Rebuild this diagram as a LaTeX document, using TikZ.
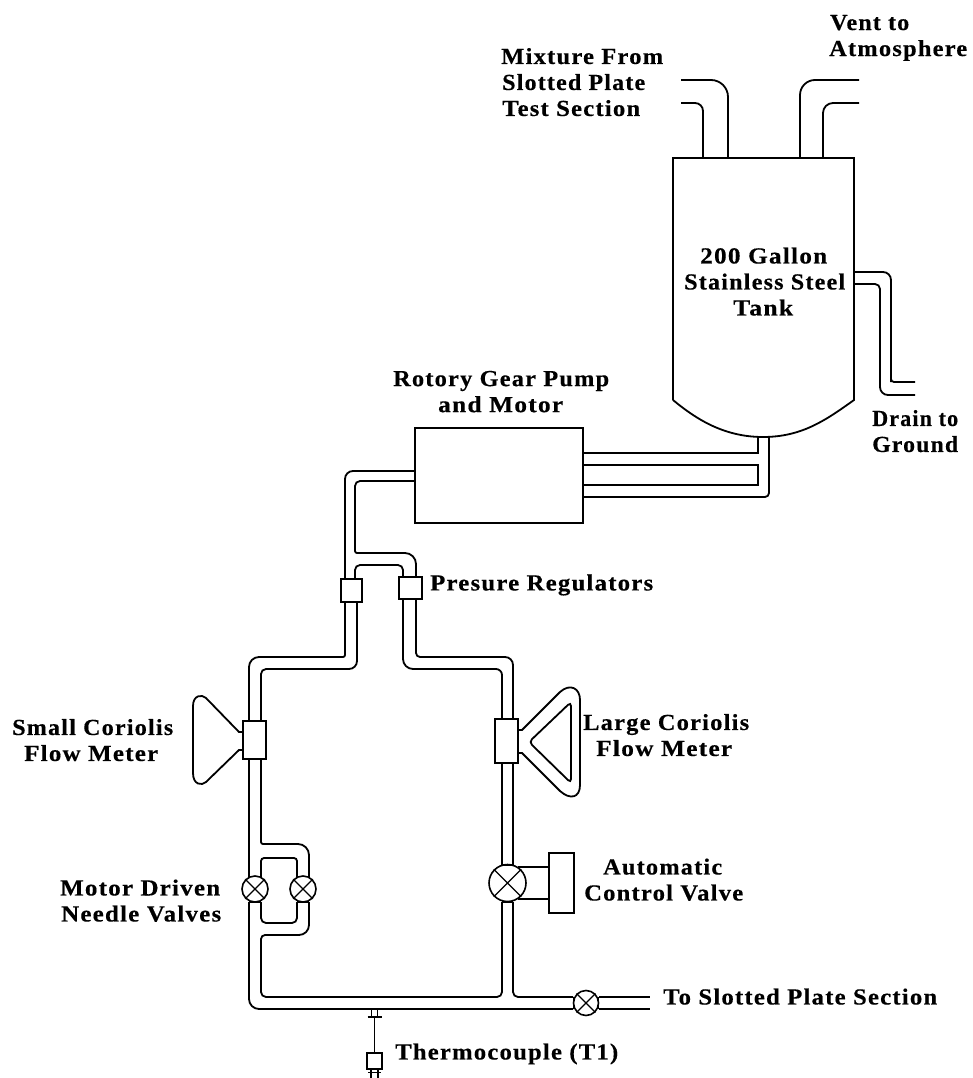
\documentclass[tikz,border=0pt]{standalone}
\usepackage{graphicx}
\usepackage{fontspec}
\setmainfont{Liberation Serif}[LetterSpace=5,BoldFont={Liberation Serif Bold},BoldFeatures={FakeBold=0.35}]
\newsavebox{\lblbox}
% \fitl{offset}{width}{text}: a line stretched to the reference's width
\newcommand{\fitl}[3]{\hspace*{#1pt}\sbox{\lblbox}{#3}\pgfmathsetmacro{\lblr}{#2/\the\wd\lblbox}\scalebox{\lblr}[1]{\usebox{\lblbox}}\rule{0pt}{15pt}\rule[-5pt]{0pt}{5pt}}
\tikzset{
 pipe/.style={line width=1.8pt,rounded corners=6pt,line cap=butt},
 plain/.style={line width=1.8pt},
 box/.style={draw,line width=1.8pt,rectangle,inner sep=0pt,fill=white},
 lab/.style={font=\bfseries\fontsize{23}{#1}\selectfont,inner sep=0pt,text=black,align=left,anchor=west},
 lab/.default=26
}
\newcommand{\vlv}[3]{%
 \node[circle,draw,line width=1.6pt,inner sep=0pt,minimum size=#3pt,fill=white] (#1) at (#2) {};
 \draw[line width=1.3pt] (#1.45) -- (#1.225) (#1.135) -- (#1.315);}
\begin{document}
\begin{tikzpicture}[x=1pt,y=-1pt]
\useasboundingbox (0,0) rectangle (972,1078);
% Tank
\draw[plain] (673,400) -- (673,158) -- (854,158) -- (854,400)
  .. controls (826,420) and (802,437) .. (763,437) .. controls (725,437) and (697,420) .. (673,400);
\node[lab] (tanklabel) at (684,284) {\fitl{16}{127}{200 Gallon}\\\fitl{0}{161}{Stainless Steel}\\\fitl{49}{60}{Tank}};
% Mixture inlet
\draw[pipe,rounded corners=17pt] (681,80) -- (728,80) -- (728,158);
\draw[pipe,rounded corners=8pt] (681,103) -- (703,103) -- (703,158);
% Vent
\draw[pipe,rounded corners=15pt] (800,158) -- (800,80) -- (859,80);
\draw[pipe,rounded corners=10pt] (823,158) -- (823,103) -- (859,103);
% Drain
\draw[pipe,rounded corners=8pt] (854,272) -- (891,272) -- (891,382);
\draw[pipe,rounded corners=3pt] (891,375) -- (891,382) -- (915,382);
\draw[pipe,rounded corners=5pt] (854,284) -- (880,284) -- (880,350);
\draw[pipe,rounded corners=8pt] (880,350) -- (880,395) -- (915,395);
% Pump
\node[box,minimum width=168pt,minimum height=95pt] (pump) at (499,475.5) {};
\node[lab] (pumplabel) at (393,394) {\fitl{0}{216}{Rotory Gear Pump}\\\fitl{45}{125}{and Motor}};
% Tank to pump
\draw[plain] (758,437) -- (758,453) -- (pump.east|-0,453);
\draw[plain] (pump.east|-0,465) -- (758,465) -- (758,485) -- (pump.east|-0,485);
\draw[pipe,rounded corners=4pt] (769,437) -- (769,497) -- (pump.east|-0,497);
% Pump to regulators
\draw[pipe,rounded corners=8pt] (pump.west|-0,471) -- (345,471) -- (345,579);
\draw[pipe,rounded corners=5pt] (pump.west|-0,481) -- (355,481) -- (355,520);
\draw[pipe,rounded corners=2pt] (355,520) -- (355,553) -- (380,553);
\draw[pipe,rounded corners=11pt] (380,553) -- (416,553) -- (416,577);
\draw[pipe,rounded corners=5pt] (355,579) -- (355,565) -- (403,565) -- (403,577);
% Regulators
\node[box,minimum width=21pt,minimum height=23pt] (regL) at (351.5,590.5) {};
\node[box,minimum width=23pt,minimum height=22pt] (regR) at (410.5,588) {};
\node[lab] (reglabel) at (430,585) {\fitl{0}{223}{Presure Regulators}};
% Left main pipe upper
\draw[pipe,rounded corners=2pt] (345,602) -- (345,657) -- (300,657);
\draw[pipe,rounded corners=10pt] (300,657) -- (249,657) -- (249,721);
\draw[pipe,rounded corners=8pt] (357,602) -- (357,669) -- (300,669);
\draw[pipe,rounded corners=5pt] (300,669) -- (261,669) -- (261,721);
% Right main pipe upper
\draw[pipe,rounded corners=10pt] (403,599) -- (403,669) -- (460,669);
\draw[pipe,rounded corners=6pt] (460,669) -- (502,669) -- (502,719);
\draw[pipe,rounded corners=4pt] (416,599) -- (416,657) -- (460,657);
\draw[pipe,rounded corners=8pt] (460,657) -- (513,657) -- (513,719);
% Small Coriolis
\node[box,minimum width=23pt,minimum height=38pt] (smallcm) at (254.5,740) {};
\draw[plain] (smallcm.west|-0,732) -- (239,732) -- (206,698) .. controls (202,694) and (193,695) .. (193,706) -- (193,773) .. controls (193,785) and (202,786) .. (206,782) -- (239,750) -- (smallcm.west|-0,750);
\node[lab] (smalllabel) at (12,742.5) {\fitl{0}{161}{Small Coriolis}\\\fitl{12}{134}{Flow Meter}};
% Large Coriolis
\node[box,minimum width=23pt,minimum height=44pt] (largecm) at (506.5,741) {};
\draw[plain] (largecm.east|-0,730) -- (522,730) -- (560,692) .. controls (570,683) and (580,688) .. (580,700) -- (580,785) .. controls (580,798) and (570,800) .. (560,791) -- (522,753) -- (largecm.east|-0,753);
\draw[pipe,rounded corners=4pt] (529,742) -- (571,702) -- (571,783) -- cycle;
\node[lab] (largelabel) at (583,737.5) {\fitl{0}{166}{Large Coriolis}\\\fitl{13}{136}{Flow Meter}};
% Left branch below meter
\draw[plain] (249,759) -- (249,878);
\draw[pipe,rounded corners=2pt] (261,759) -- (261,844) -- (280,844);
\draw[pipe,rounded corners=11pt] (280,844) -- (309,844) -- (309,878);
\draw[pipe,rounded corners=3pt] (261,878) -- (261,858) -- (297,858) -- (297,878);
\draw[pipe,rounded corners=5pt] (261,902) -- (261,923) -- (297,923) -- (297,902);
\draw[pipe,rounded corners=10pt] (309,902) -- (309,935) -- (280,935);
\draw[pipe,rounded corners=4pt] (280,935) -- (261,935) -- (261,960);
\draw[pipe,rounded corners=5pt] (261,960) -- (261,997) -- (400,997);
\draw[pipe,rounded corners=5pt] (400,997) -- (502,997) -- (502,960);
\draw[pipe,rounded corners=10pt] (249,902) -- (249,1009) -- (573,1009);
% Needle valves
\vlv{nvL}{255,889}{26}
\vlv{nvR}{303,889}{26}
\draw[plain] (249,902) -- (261,902) (297,902) -- (309,902);
\node[lab] (needlelabel) at (60,903) {\fitl{0}{160}{Motor Driven}\\\fitl{1}{160}{Needle Valves}};
% Right branch
\draw[plain] (502,763) -- (502,865) (513,763) -- (513,865);
\node[box,minimum width=25pt,minimum height=60pt] (act) at (561.5,883) {};
\draw[plain] (518,867) -- (act.west|-0,867) (518,899) -- (act.west|-0,899);
\vlv{acv}{507.5,883}{37}
\draw[plain] (502,865) -- (513,865) (502,902) -- (513,902) (502,902) -- (502,960);
\node[lab] (actlabel) at (584,882) {\fitl{19}{119}{Automatic}\\\fitl{0}{159}{Control Valve}};
\draw[pipe,rounded corners=5pt] (513,902) -- (513,997) -- (573,997);
% Outlet
\vlv{outv}{586,1003}{25}
\draw[plain] (573.5,997) -- (573.5,1009) (598.5,997) -- (598.5,1009);
\draw[plain] (outv.east|-0,997) -- (650,997) (outv.east|-0,1009) -- (650,1009);
\node[lab] (outlabel) at (663,999) {\fitl{0}{274}{To Slotted Plate Section}};
% Thermocouple
\node[box,minimum width=15pt,minimum height=16pt] (tc) at (374.5,1061) {};
\draw[line width=1.4pt] (371.5,1009) -- (371.5,1016) (377.5,1009) -- (377.5,1016);
\draw[line width=2.5pt] (367.5,1017) -- (381.5,1017);
\draw[line width=1.4pt] (374.5,1017) -- (tc.north);
\draw[line width=2pt] (371,1069) -- (371,1078) (378,1069) -- (378,1078);
\draw[line width=1.4pt] (368,1072.5) -- (381,1072.5);
\node[lab] (tclabel) at (395,1054) {\fitl{0}{223}{Thermocouple (T1)}};
% Labels
\node[lab] (mixlabel) at (501,84.5) {\fitl{0}{162}{Mixture From}\\\fitl{1}{143}{Slotted Plate}\\\fitl{1}{138}{Test Section}};
\node[lab] (ventlabel) at (829,38) {\fitl{1}{79}{Vent to}\\\fitl{0}{138}{Atmosphere}};
\node[lab] (drainlabel) at (872,433.5) {\fitl{0}{86}{Drain to}\\\fitl{0}{86}{Ground}};
\end{tikzpicture}
\end{document}
